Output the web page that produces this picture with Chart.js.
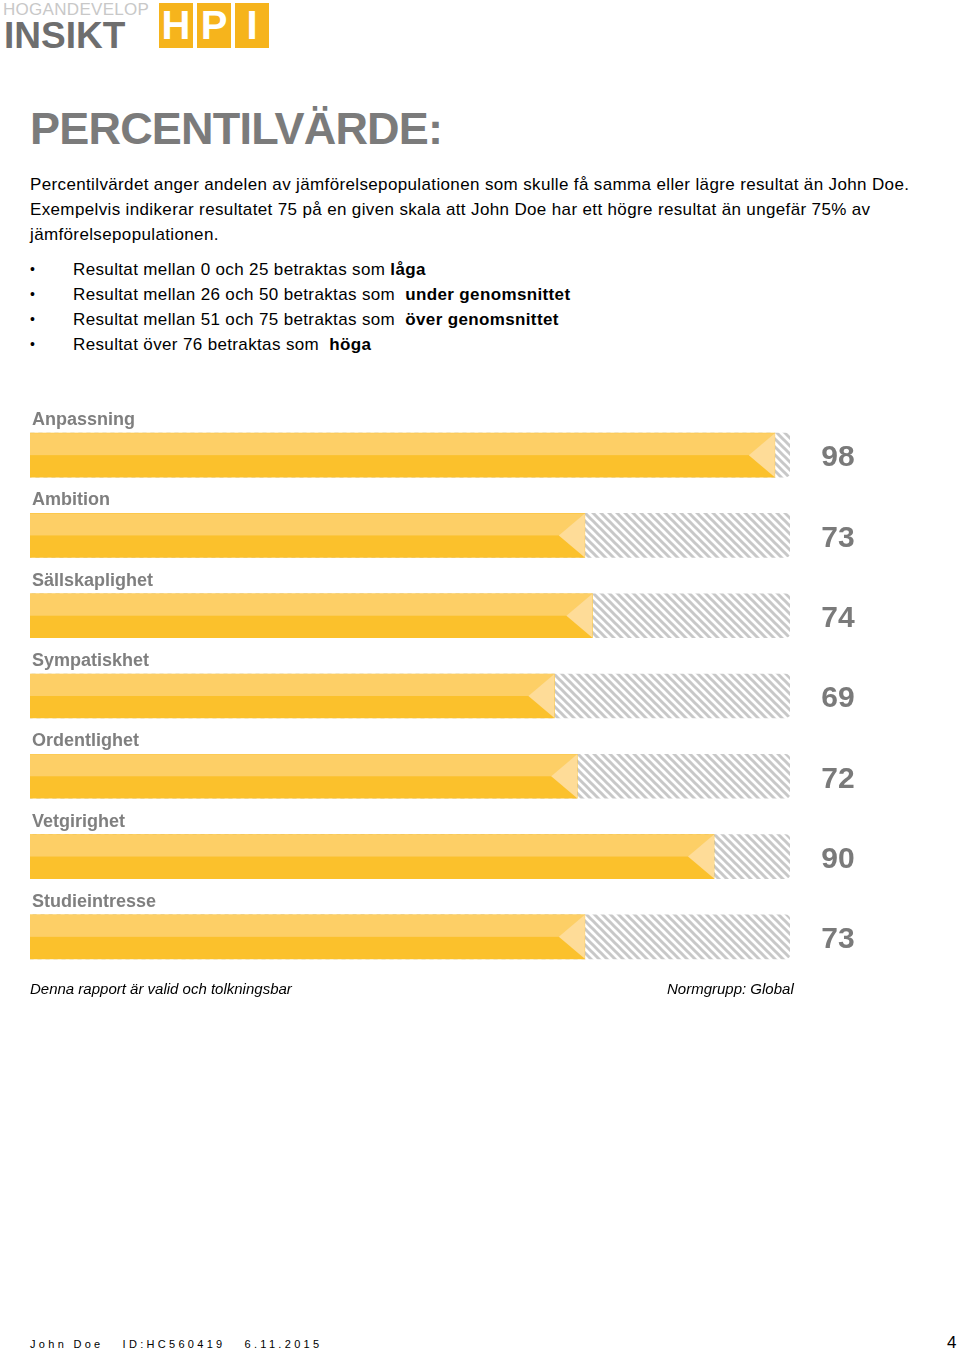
<!DOCTYPE html>
<html>
<head>
<meta charset="utf-8">
<script src="https://cdn.jsdelivr.net/npm/chart.js"></script>
<style>
  body { margin: 0; background: #fff; font-family: "Liberation Sans", Arial, sans-serif; }
  .page { position: relative; width: 960px; height: 1352px; overflow: hidden; }
  .abs { position: absolute; white-space: nowrap; }
  .brand { left: 3px; top: 0px; font-size: 17px; color: #c8c8c8; letter-spacing: 0.3px; }
  .insikt { left: 4px; top: 15px; font-size: 37px; font-weight: bold; color: #6e6e6e; }
  .hpi { top: 3px; width: 34px; height: 45px; background: #f6b41c; color: #fff; font-weight: bold;
         font-size: 40px; text-align: center; line-height: 45px; }
  h1 { position: absolute; left: 30px; top: 103px; margin: 0; font-size: 45px; letter-spacing: -0.8px;
       color: #7b7b7b; font-weight: bold; }
  .intro { left: 30px; top: 172px; font-size: 17px; letter-spacing: 0.36px; line-height: 25px; color: #000; }
  .bullets { left: 0; top: 257px; font-size: 17px; letter-spacing: 0.36px; line-height: 25px; color: #000; }
  .bullets div { position: relative; padding-left: 73px; }
  .bullets div::before { content: "\2022"; position: absolute; left: 30px; font-size: 14px; }
  .note { font-size: 15px; font-style: italic; color: #000; top: 980px; }
  .foot { left: 30px; top: 1338px; font-size: 11px; letter-spacing: 3.3px; color: #000; }
  #wrap { position: absolute; left: 0; top: 400px; width: 960px; height: 590px; }
</style>
</head>
<body>
<div class="page">
  <div class="abs brand">HOGANDEVELOP</div>
  <div class="abs insikt">INSIKT</div>
  <div class="abs hpi" style="left:159px">H</div>
  <div class="abs hpi" style="left:197px">P</div>
  <div class="abs hpi" style="left:235px">I</div>

  <h1>PERCENTILVÄRDE:</h1>
  <div class="abs intro">Percentilvärdet anger andelen av jämförelsepopulationen som skulle få samma eller lägre resultat än John Doe.<br>Exempelvis indikerar resultatet 75 på en given skala att John Doe har ett högre resultat än ungefär 75% av<br>jämförelsepopulationen.</div>
  <div class="abs bullets">
    <div>Resultat mellan 0 och 25 betraktas som <b>låga</b></div>
    <div>Resultat mellan 26 och 50 betraktas som &nbsp;<b>under genomsnittet</b></div>
    <div>Resultat mellan 51 och 75 betraktas som &nbsp;<b>över genomsnittet</b></div>
    <div>Resultat över 76 betraktas som &nbsp;<b>höga</b></div>
  </div>

  <div id="wrap"><canvas id="percentil_chart"></canvas></div>

  <div class="abs note" style="left:30px">Denna rapport är valid och tolkningsbar</div>
  <div class="abs note" style="left:667px">Normgrupp: Global</div>
  <div class="abs foot">John Doe&nbsp;&nbsp; ID:HC560419&nbsp;&nbsp; 6.11.2015</div>
  <div class="abs" style="left:947px; top:1333px; font-size:17px;">4</div>
</div>

<script>
(function() {
    "use strict"

    // data
    var scales = ["Anpassning", "Ambition", "Sällskaplighet", "Sympatiskhet", "Ordentlighet", "Vetgirighet", "Studieintresse"];
    var scores = [98, 73, 74, 69, 72, 90, 73];
    var scaleMax = 100;

    // grey diagonal stripes for the empty part of each bar
    var makeHatch = function(ctx){
        var c = document.createElement('canvas');
        c.width = 8; c.height = 8;
        var p = c.getContext('2d');
        p.strokeStyle = '#c8c8c8';
        p.lineWidth = 3;
        for (var k = -1; k <= 1; k++) {
            p.beginPath();
            p.moveTo(-2, -2 + k * 8);
            p.lineTo(10, 10 + k * 8);
            p.stroke();
        }
        return ctx.createPattern(c, 'repeat');
    }

    // lighter top half, arrow tip, labels above and score at right
    var barDecor = {
        id: 'barDecor',
        afterDatasetsDraw: function(chart){
            var ctx = chart.ctx;
            var meta = chart.getDatasetMeta(1);
            ctx.save();
            meta.data.forEach(function(bar, i){
                var h = bar.height, top = bar.y - h / 2, bot = bar.y + h / 2;
                ctx.fillStyle = '#fdcf66';
                ctx.fillRect(bar.base, top, bar.x - bar.base, h / 2);
                ctx.fillStyle = '#fedc98';
                ctx.beginPath();
                ctx.moveTo(bar.x, top);
                ctx.lineTo(bar.x - 26, bar.y);
                ctx.lineTo(bar.x, bot);
                ctx.closePath();
                ctx.fill();

                ctx.fillStyle = '#7f7f7f';
                ctx.font = 'bold 18px "Liberation Sans", Arial, sans-serif';
                ctx.textAlign = 'left';
                ctx.textBaseline = 'middle';
                ctx.fillText(scales[i], 32, top - 13);

                ctx.fillStyle = '#7a7a7a';
                ctx.font = 'bold 30px "Liberation Sans", Arial, sans-serif';
                ctx.textAlign = 'center';
                ctx.fillText(String(scores[i]), 838, bar.y + 3);
            });
            ctx.restore();
        }
    }

    var el = document.getElementById("percentil_chart");
    var percentil_chart = el.getContext('2d');
    new Chart(percentil_chart, {
        type: 'bar',
        data: {
            labels: scales,
            datasets: [{
                data: scales.map(function(){ return scaleMax; }),
                backgroundColor: makeHatch(percentil_chart),
                borderRadius: { topRight: 5, bottomRight: 5, topLeft: 0, bottomLeft: 0 },
                borderSkipped: false,
                barThickness: 44,
                grouped: false,
                order: 2
            }, {
                data: scores,
                backgroundColor: '#fbc12c',
                borderWidth: 0,
                barThickness: 44,
                grouped: false,
                order: 1
            }]
        },
        options: {
            indexAxis: 'y',
            responsive: true,
            maintainAspectRatio: false,
            animation: false,
            layout: { padding: { left: 30, right: 170, top: 15, bottom: 13 } },
            scales: {
                x: { display: false, min: 0, max: scaleMax },
                y: { display: false }
            },
            plugins: {
                legend: { display: false },
                tooltip: { enabled: false }
            }
        },
        plugins: [barDecor]
    });
})();
</script>
</body>
</html>
